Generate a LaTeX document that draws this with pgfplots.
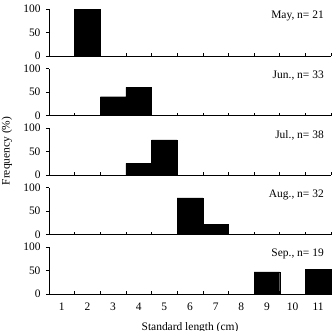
\documentclass[border=0pt]{standalone}
\usepackage{fontspec}
\setmainfont{Liberation Serif}
\usepackage{pgfplots}
\pgfplotsset{compat=1.18}

\newcommand{\lblfont}{\fontsize{11.5}{13}\selectfont}
\pgfplotsset{
  panel/.style={
    scale only axis, width=282bp, height=47bp,
    xmin=0.5, xmax=11.5, ymin=0, ymax=100,
    axis x line*=bottom, axis y line*=left,
    xtick={1.5,2.5,...,11.5}, xticklabels={},
    xtick align=inside, ytick align=outside,
    major tick length=3bp,
    ytick={0,50,100},
    tick style={black, line width=0.6pt},
    axis line style={black, line width=0.6pt},
    tick label style={font=\lblfont},
    /pgf/number format/assume math mode=true,
    yticklabel style={xshift=-2bp},
    clip=false,
  },
  bars/.style={ybar, bar width=1, bar shift=0pt, fill=black, draw=black},
}
\newcommand{\tag}[1]{\node[anchor=north east, inner sep=0pt, font=\lblfont] at (rel axis cs:0.975,0.96) {#1};}

\begin{document}
\begin{tikzpicture}
% May
\begin{axis}[panel, at={(0,0)}]
\addplot[bars] coordinates {(2,100)};
\tag{May, n= 21}
\end{axis}
% June
\begin{axis}[panel, at={(0,-59.5bp)}]
\addplot[bars] coordinates {(3,40) (4,60)};
\tag{Jun., n= 33}
\end{axis}
% July
\begin{axis}[panel, at={(0,-119bp)}]
\addplot[bars] coordinates {(4,25) (5,75)};
\tag{Jul., n= 38}
\end{axis}
% August
\begin{axis}[panel, at={(0,-178.5bp)}]
\addplot[bars] coordinates {(6,78) (7,22)};
\tag{Aug., n= 32}
\end{axis}
% September
\begin{axis}[panel, at={(0,-238bp)},
  extra x ticks={1,2,...,11},
  extra x tick style={major tick length=0pt, tick label style={yshift=-5bp}},
  extra x tick labels={1,2,3,4,5,6,7,8,9,10,11},
  xlabel={Standard length (cm)},
  xlabel style={font=\lblfont, yshift=-5bp},
]
\addplot[bars] coordinates {(9,47) (11,53)};
\tag{Sep., n= 19}
\end{axis}
\node[rotate=90, inner sep=0pt, font=\lblfont] at (-42bp,-95bp) {Frequency (\%)};
\pgfresetboundingbox
\path (-49bp,56bp) rectangle (283bp,-275bp);
\end{tikzpicture}
\end{document}
